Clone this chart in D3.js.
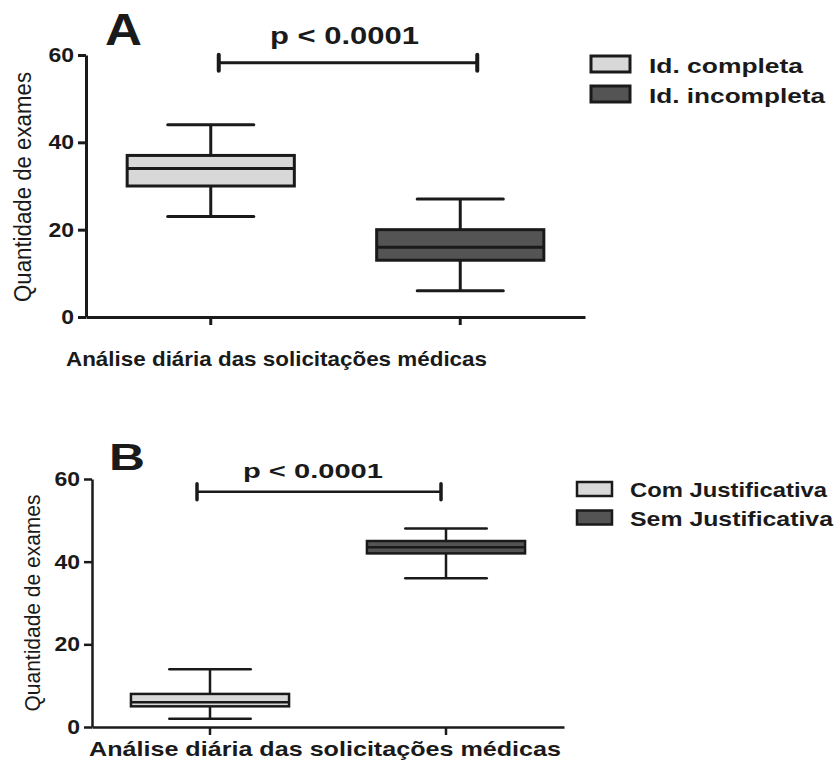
<!DOCTYPE html>
<html>
<head>
<meta charset="utf-8">
<script src="https://cdn.jsdelivr.net/npm/d3@7"></script>
<style>
  body { margin: 0; background: #fff; }
  text { font-family: "Liberation Sans", Arial, sans-serif; fill: #1a1a1a; }
</style>
</head>
<body>
<svg id="chart" width="837" height="760"></svg>
<script>
// panel A: identification of requests
const groupsA = ["Id. completa", "Id. incompleta"];
const minA = [23, 6];
const q1A = [30, 13];
const medA = [34, 16];
const q3A = [37, 20];
const maxA = [44, 27];

// panel B: justification of requests
const groupsB = ["Com Justificativa", "Sem Justificativa"];
const minB = [2, 36];
const q1B = [5, 42];
const medB = [6, 43.5];
const q3B = [8, 45];
const maxB = [14, 48];

const yTicks = [0, 20, 40, 60];
const fills = ["#d8d8d8", "#545454"];
const ink = "#1a1a1a";
const xTitle = "Análise diária das solicitações médicas";
const yTitle = "Quantidade de exames";
const pText = "p < 0.0001";

const svg = d3.select("#chart");

function drawPanel(p) {
    const g = svg.append("g");
    const data = p.groups.map((name, i) => ({
        name, min: p.min[i], q1: p.q1[i], med: p.med[i], q3: p.q3[i], max: p.max[i], fill: fills[i]
    }));

    const x = d3.scaleBand().domain(p.groups).range([p.left, p.right]).paddingInner(0).paddingOuter(0);
    const y = d3.scaleLinear().domain([0, 60]).range([p.bottom, p.top]);
    const cx = d => x(d) + x.bandwidth() / 2;
    const boxW = x.bandwidth() * 0.67;
    const capW = x.bandwidth() * 0.345;

    // axes
    const yAxis = g.append("g")
        .attr("transform", `translate(${p.left},0)`)
        .call(d3.axisLeft(y).tickValues(yTicks).tickSize(8).tickSizeOuter(0).tickPadding(4));
    const xAxis = g.append("g")
        .attr("transform", `translate(0,${p.bottom})`)
        .call(d3.axisBottom(x).tickSize(8).tickSizeOuter(0).tickFormat(""));
    [yAxis, xAxis].forEach(a => {
        a.select(".domain").attr("stroke", ink).attr("stroke-width", p.sw);
        a.selectAll(".tick line").attr("stroke", ink).attr("stroke-width", p.sw);
    });
    yAxis.selectAll(".tick text")
        .attr("fill", ink)
        .style("font-size", p.tickFont + "px")
        .style("font-weight", "bold")
        .attr("textLength", d => (String(d).length) * p.tickFont * 0.64)
        .attr("lengthAdjust", "spacingAndGlyphs");

    // whiskers
    const box = g.selectAll(".box").data(data).join("g").attr("class", "box");
    box.append("line")
        .attr("x1", d => cx(d.name)).attr("x2", d => cx(d.name))
        .attr("y1", d => y(d.max)).attr("y2", d => y(d.min))
        .attr("stroke", ink).attr("stroke-width", p.sw);
    ["min", "max"].forEach(k => {
        box.append("line")
            .attr("x1", d => cx(d.name) - capW / 2).attr("x2", d => cx(d.name) + capW / 2)
            .attr("y1", d => y(d[k])).attr("y2", d => y(d[k]))
            .attr("stroke", ink).attr("stroke-width", p.sw).attr("stroke-linecap", "round");
    });
    box.append("rect")
        .attr("x", d => cx(d.name) - boxW / 2)
        .attr("width", boxW)
        .attr("y", d => y(d.q3))
        .attr("height", d => y(d.q1) - y(d.q3))
        .attr("fill", d => d.fill)
        .attr("stroke", ink).attr("stroke-width", p.sw);
    box.append("line")
        .attr("x1", d => cx(d.name) - boxW / 2).attr("x2", d => cx(d.name) + boxW / 2)
        .attr("y1", d => y(d.med)).attr("y2", d => y(d.med))
        .attr("stroke", ink).attr("stroke-width", p.sw);

    // significance bar
    const sx1 = cx(p.groups[0]) + p.sigOff[0];
    const sx2 = cx(p.groups[1]) + p.sigOff[1];
    const sy = y(p.sigY);
    g.append("line").attr("x1", sx1).attr("x2", sx2).attr("y1", sy).attr("y2", sy)
        .attr("stroke", ink).attr("stroke-width", p.sw);
    [sx1, sx2].forEach(sx => {
        g.append("line").attr("x1", sx).attr("x2", sx)
            .attr("y1", sy - p.capH).attr("y2", sy + p.capH)
            .attr("stroke", ink).attr("stroke-width", p.sw + 1).attr("stroke-linecap", "round");
    });
    g.append("text")
        .attr("x", p.pText.x).attr("y", p.pText.y)
        .attr("textLength", p.pText.w).attr("lengthAdjust", "spacingAndGlyphs")
        .style("font-size", p.pText.size + "px").style("font-weight", "bold")
        .text(pText);

    // panel letter
    g.append("text")
        .attr("x", p.letter.x).attr("y", p.letter.y)
        .attr("textLength", p.letter.w).attr("lengthAdjust", "spacingAndGlyphs")
        .style("font-size", p.letter.size + "px").style("font-weight", "bold")
        .text(p.letter.t);

    // axis titles
    g.append("text")
        .attr("x", p.xTitle.x).attr("y", p.xTitle.y)
        .attr("textLength", p.xTitle.w).attr("lengthAdjust", "spacingAndGlyphs")
        .style("font-size", p.xTitle.size + "px").style("font-weight", "bold")
        .text(xTitle);
    g.append("text")
        .attr("transform", `translate(${p.yTitle.x},${p.yTitle.y}) rotate(-90)`)
        .attr("text-anchor", "middle")
        .attr("textLength", p.yTitle.w).attr("lengthAdjust", "spacingAndGlyphs")
        .style("font-size", p.yTitle.size + "px")
        .text(yTitle);

    // legend
    const leg = g.append("g");
    const items = leg.selectAll("g").data(data).join("g")
        .attr("transform", (d, i) => `translate(${p.legend.x},${p.legend.y + i * p.legend.dy})`);
    items.append("rect")
        .attr("width", p.legend.sw).attr("height", p.legend.sh)
        .attr("fill", d => d.fill)
        .attr("stroke", ink).attr("stroke-width", p.sw);
    items.append("text")
        .attr("x", p.legend.tx).attr("y", p.legend.sh + 1)
        .attr("textLength", (d, i) => p.legend.tw[i]).attr("lengthAdjust", "spacingAndGlyphs")
        .style("font-size", p.legend.size + "px").style("font-weight", "bold")
        .text(d => d.name);
}

drawPanel({
    groups: groupsA, min: minA, q1: q1A, med: medA, q3: q3A, max: maxA,
    left: 86, right: 585, top: 55, bottom: 317, sw: 3, tickFont: 20, capH: 8,
    sigY: 58.2, sigOff: [8, 17],
    pText: {x: 270, y: 44, w: 149, size: 23},
    letter: {x: 105, y: 45, w: 37, size: 44, t: "A"},
    xTitle: {x: 66, y: 366, w: 421, size: 21},
    yTitle: {x: 31, y: 187, w: 230, size: 23},
    legend: {x: 591, y: 56, dy: 30, sw: 39, sh: 16, tx: 58, tw: [154, 176], size: 21}
});

drawPanel({
    groups: groupsB, min: minB, q1: q1B, med: medB, q3: q3B, max: maxB,
    left: 92, right: 564, top: 479, bottom: 727, sw: 2.5, tickFont: 20, capH: 8,
    sigY: 56.9, sigOff: [-13, -5],
    pText: {x: 243, y: 478, w: 140, size: 21},
    letter: {x: 109, y: 470, w: 36, size: 36, t: "B"},
    xTitle: {x: 89, y: 756, w: 472, size: 21},
    yTitle: {x: 40, y: 603, w: 217, size: 22},
    legend: {x: 577, y: 482, dy: 28.5, sw: 35, sh: 14, tx: 53, tw: [197, 203], size: 21}
});
</script>
</body>
</html>
